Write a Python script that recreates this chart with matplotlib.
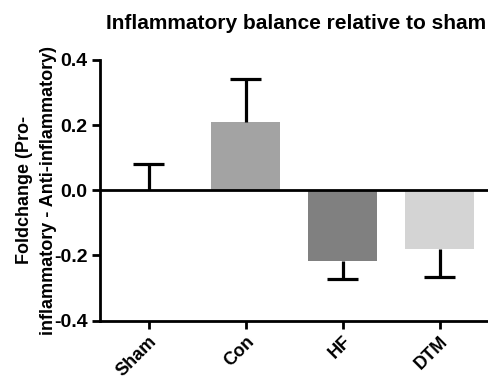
import matplotlib
matplotlib.use("Agg")
import matplotlib.pyplot as plt

categories = ["Sham", "Con", "HF", "DTM"]
values = [0.0, 0.21, -0.218, -0.18]
errors = [0.081, 0.13, 0.054, 0.085]
colors = ["#ffffff", "#a3a3a3", "#808080", "#d4d4d4"]
yticks = [-0.4, -0.2, 0.0, 0.2, 0.4]

plt.rcParams['font.family'] = ['Liberation Sans', 'DejaVu Sans']
plt.rcParams['font.weight'] = 'bold'

fig = plt.figure(figsize=(4.88, 3.79), dpi=100)
ax = fig.add_axes([0.205, 0.154, 0.795, 0.688])

x = list(range(len(categories)))
ax.bar(x, values, width=0.71, color=colors, edgecolor='none', zorder=2)
cap_w = 0.32
for xi, v, e in zip(x, values, errors):
    sign = 1 if v >= 0 else -1
    end = v + sign * e
    ax.vlines(xi, v, end, color='black', linewidth=2.3, zorder=3)
    ax.hlines(end, xi - cap_w / 2, xi + cap_w / 2, color='black', linewidth=2.3, zorder=3)
ax.axhline(0, color='black', linewidth=2, zorder=4)

ax.set_xlim(-0.5, 3.5)
ax.set_ylim(-0.4, 0.4)
ax.set_yticks(yticks)
ax.set_yticklabels([f"{t:.1f}" for t in yticks], fontsize=14, fontweight='bold')
ax.set_xticks(x)
ax.set_xticklabels(categories, rotation=45, ha='right', rotation_mode='anchor',
                   fontsize=13, fontweight='bold')
for s in ['top', 'right']:
    ax.spines[s].set_visible(False)
for s in ['left', 'bottom']:
    ax.spines[s].set_linewidth(2)
ax.tick_params(axis='both', width=2, length=6, direction='out', pad=3)
ax.set_ylabel("Foldchange (Pro-\ninflammatory - Anti-inflammatory)",
              fontsize=13, fontweight='bold', linespacing=1.5, labelpad=-2)
ax.set_title("Inflammatory balance relative to sham", fontsize=15,
             fontweight='bold', pad=22, x=0.505)

fig.savefig("out.png", dpi=100)
